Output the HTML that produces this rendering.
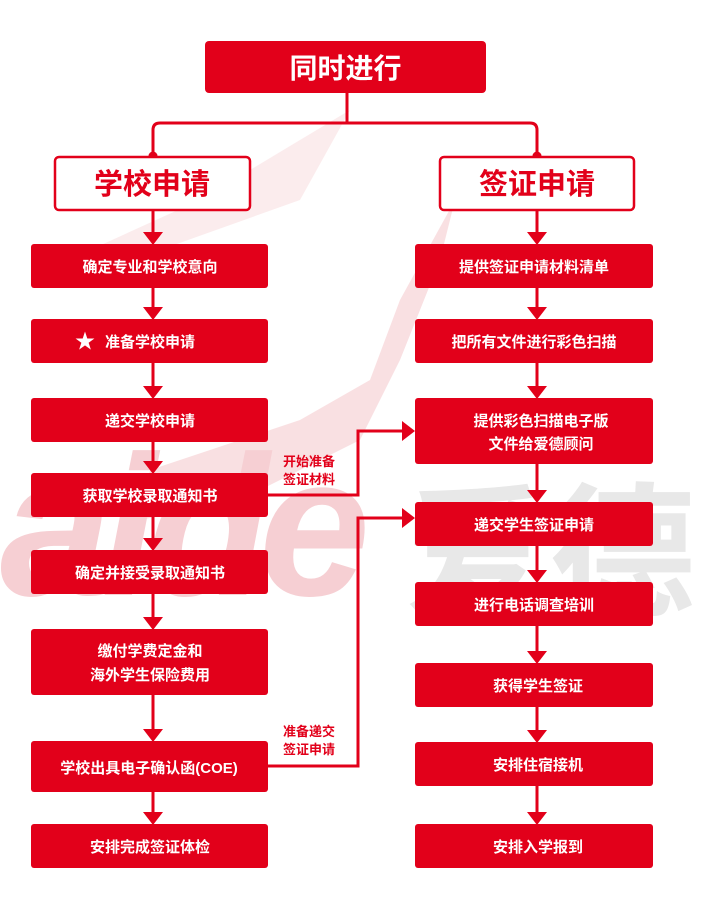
<!DOCTYPE html>
<html><head><meta charset="utf-8"><style>
html,body{margin:0;padding:0;background:#fff}
svg{display:block}
text{font-family:"Liberation Sans","Noto Sans CJK SC",sans-serif;font-weight:bold}
</style></head><body>
<svg width="708" height="906" viewBox="0 0 708 906" xmlns="http://www.w3.org/2000/svg">
<!-- watermark -->
<path d="M455 200 L400 300 L370 380 L300 420 L150 470 L140 520 L240 500 L360 440 L400 360 L440 260 Z" fill="#f7d3d6" opacity="0.7"/>
<path d="M350 110 L200 200 L90 250 L160 250 L300 200 Z" fill="#f9dfe1" opacity="0.6"/>
<text x="0" y="595" font-size="200" font-style="italic" fill="#f6cfd3" letter-spacing="-10">aide</text>
<text x="405" y="605" font-size="145" fill="#e8e8e8">爱德</text>

<rect x="205" y="41" width="281" height="52" rx="4" fill="#e2001a"/>
<text x="345.5" y="78" font-size="28" fill="#fff" text-anchor="middle" font-weight="normal">同时进行</text>

<g stroke="#e2001a" stroke-width="3" fill="none">
<line x1="347" y1="93" x2="347" y2="123"/>
<path d="M153 156 V130 Q153 123 160 123 H530 Q537 123 537 130 V156"/>
</g>
<circle cx="153" cy="156" r="4.5" fill="#e2001a"/>
<circle cx="537" cy="156" r="4.5" fill="#e2001a"/>
<rect x="55" y="157" width="195" height="53" rx="4" fill="#fff" stroke="#e2001a" stroke-width="2.5"/>
<rect x="440" y="157" width="194" height="53" rx="4" fill="#fff" stroke="#e2001a" stroke-width="2.5"/>
<text x="152" y="194" font-size="29" fill="#e2001a" text-anchor="middle">学校申请</text>
<text x="537" y="194" font-size="29" fill="#e2001a" text-anchor="middle">签证申请</text>

<g fill="#e2001a">
<rect x="31" y="244" width="237" height="44" rx="3"/>
<rect x="31" y="319" width="237" height="44" rx="3"/>
<rect x="31" y="398" width="237" height="44" rx="3"/>
<rect x="31" y="473" width="237" height="44" rx="3"/>
<rect x="31" y="550" width="237" height="44" rx="3"/>
<rect x="31" y="629" width="237" height="66" rx="3"/>
<rect x="31" y="741" width="237" height="51" rx="3"/>
<rect x="31" y="824" width="237" height="44" rx="3"/>
<rect x="415" y="244" width="238" height="44" rx="3"/>
<rect x="415" y="319" width="238" height="44" rx="3"/>
<rect x="415" y="398" width="238" height="66" rx="3"/>
<rect x="415" y="502" width="238" height="44" rx="3"/>
<rect x="415" y="582" width="238" height="44" rx="3"/>
<rect x="415" y="663" width="238" height="44" rx="3"/>
<rect x="415" y="742" width="238" height="44" rx="3"/>
<rect x="415" y="824" width="238" height="44" rx="3"/>
</g>

<g stroke="#e2001a" stroke-width="3">
<line x1="153" y1="210" x2="153" y2="234"/>
<line x1="153" y1="288" x2="153" y2="309"/>
<line x1="153" y1="363" x2="153" y2="388"/>
<line x1="153" y1="442" x2="153" y2="463"/>
<line x1="153" y1="517" x2="153" y2="540"/>
<line x1="153" y1="594" x2="153" y2="619"/>
<line x1="153" y1="695" x2="153" y2="731"/>
<line x1="153" y1="792" x2="153" y2="814"/>
<line x1="537" y1="210" x2="537" y2="234"/>
<line x1="537" y1="288" x2="537" y2="309"/>
<line x1="537" y1="363" x2="537" y2="388"/>
<line x1="537" y1="464" x2="537" y2="492"/>
<line x1="537" y1="546" x2="537" y2="572"/>
<line x1="537" y1="626" x2="537" y2="653"/>
<line x1="537" y1="707" x2="537" y2="732"/>
<line x1="537" y1="786" x2="537" y2="814"/>
</g>
<g fill="#e2001a">
<polygon points="143,232 163,232 153,245"/>
<polygon points="143,307 163,307 153,320"/>
<polygon points="143,386 163,386 153,399"/>
<polygon points="143,461 163,461 153,474"/>
<polygon points="143,538 163,538 153,551"/>
<polygon points="143,617 163,617 153,630"/>
<polygon points="143,729 163,729 153,742"/>
<polygon points="143,812 163,812 153,825"/>
<polygon points="527,232 547,232 537,245"/>
<polygon points="527,307 547,307 537,320"/>
<polygon points="527,386 547,386 537,399"/>
<polygon points="527,490 547,490 537,503"/>
<polygon points="527,570 547,570 537,583"/>
<polygon points="527,651 547,651 537,664"/>
<polygon points="527,730 547,730 537,743"/>
<polygon points="527,812 547,812 537,825"/>
<polygon points="402,421 402,441 415,431"/>
<polygon points="402,508 402,528 415,518"/>
</g>
<g stroke="#e2001a" stroke-width="3" fill="none">
<path d="M268 495 H358 V431 H404"/>
<path d="M268 766 H358 V518 H404"/>
</g>

<g font-size="15" fill="#fff" text-anchor="middle">
<text x="150" y="272">确定专业和学校意向</text>
<text x="150" y="347">准备学校申请</text>
<text x="150" y="426">递交学校申请</text>
<text x="150" y="501">获取学校录取通知书</text>
<text x="150" y="578">确定并接受录取通知书</text>
<text x="150" y="656">缴付学费定金和</text>
<text x="150" y="680">海外学生保险费用</text>
<text x="149" y="773">学校出具电子确认函(COE)</text>
<text x="150" y="852">安排完成签证体检</text>
<text x="534" y="272">提供签证申请材料清单</text>
<text x="534" y="347">把所有文件进行彩色扫描</text>
<text x="541" y="426">提供彩色扫描电子版</text>
<text x="541" y="449">文件给爱德顾问</text>
<text x="534" y="530">递交学生签证申请</text>
<text x="534" y="610">进行电话调查培训</text>
<text x="538" y="691">获得学生签证</text>
<text x="538" y="770">安排住宿接机</text>
<text x="538" y="852">安排入学报到</text>
</g>
<text x="85" y="348" font-size="20" fill="#fff" text-anchor="middle" font-weight="normal">★</text>
<g font-size="13" fill="#e2001a" font-weight="normal">
<text x="283" y="466">开始准备</text>
<text x="283" y="484">签证材料</text>
<text x="283" y="736">准备递交</text>
<text x="283" y="754">签证申请</text>
</g>
</svg>
</body></html>
